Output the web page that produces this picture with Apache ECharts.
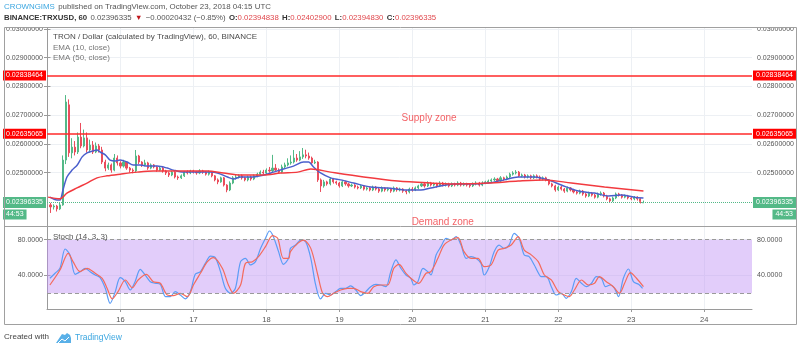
<!DOCTYPE html>
<html>
<head>
<meta charset="utf-8">
<script src="https://cdn.jsdelivr.net/npm/echarts@6/dist/echarts.min.js"></script>
<style>
  html, body { margin: 0; padding: 0; background: #fff; }
  #chart { width: 800px; height: 349px; }
</style>
</head>
<body>
<div id="chart"></div>
<script>
// TRX/USD hourly bars (Binance), x = hours since Oct 15 2018 00:00 UTC
const FIRST_HOUR = 1;

// [open, close, low, high]
const candles = [
  [0.02388,0.02381,0.02360,0.02395],[0.02381,0.02384,0.02372,0.02390],[0.02384,0.02374,0.02365,0.02388],[0.02374,0.02388,0.02370,0.02395],
  [0.02388,0.02544,0.02385,0.02560],[0.02544,0.02746,0.02530,0.02770],[0.02736,0.02569,0.02555,0.02755],[0.02569,0.02589,0.02550,0.02620],
  [0.02589,0.02572,0.02560,0.02610],[0.02572,0.02624,0.02565,0.02640],[0.02624,0.02593,0.02585,0.02673],[0.02593,0.02621,0.02588,0.02650],
  [0.02621,0.02579,0.02570,0.02640],[0.02579,0.02596,0.02570,0.02615],[0.02596,0.02572,0.02565,0.02610],[0.02572,0.02593,0.02568,0.02605],
  [0.02593,0.02579,0.02570,0.02600],[0.02579,0.02537,0.02530,0.02590],[0.02537,0.02516,0.02505,0.02545],[0.02516,0.02527,0.02510,0.02535],
  [0.02527,0.02509,0.02500,0.02532],[0.02509,0.02551,0.02505,0.02565],[0.02551,0.02534,0.02525,0.02560],[0.02534,0.02523,0.02515,0.02540],
  [0.02523,0.02537,0.02518,0.02545],[0.02537,0.02516,0.02510,0.02540],[0.02516,0.02509,0.02500,0.02520],[0.02509,0.02506,0.02498,0.02515],
  [0.02506,0.02558,0.02500,0.02579],[0.02558,0.02537,0.02530,0.02562],[0.02537,0.02527,0.02520,0.02540],[0.02527,0.02534,0.02522,0.02545],
  [0.02534,0.02516,0.02510,0.02538],[0.02516,0.02527,0.02512,0.02532],[0.02527,0.02520,0.02515,0.02530],[0.02520,0.02509,0.02503,0.02524],
  [0.02509,0.02516,0.02505,0.02520],[0.02516,0.02506,0.02500,0.02520],[0.02506,0.02499,0.02492,0.02510],[0.02499,0.02492,0.02485,0.02503],
  [0.02492,0.02502,0.02488,0.02506],[0.02502,0.02485,0.02480,0.02505],[0.02485,0.02482,0.02475,0.02490],[0.02482,0.02489,0.02478,0.02494],
  [0.02489,0.02502,0.02485,0.02506],[0.02502,0.02499,0.02494,0.02508],[0.02499,0.02506,0.02495,0.02510],[0.02506,0.02502,0.02497,0.02510],
  [0.02502,0.02499,0.02493,0.02506],[0.02499,0.02506,0.02495,0.02512],[0.02506,0.02502,0.02496,0.02510],[0.02502,0.02495,0.02490,0.02506],
  [0.02495,0.02502,0.02490,0.02508],[0.02502,0.02489,0.02484,0.02505],[0.02489,0.02475,0.02470,0.02492],[0.02475,0.02468,0.02460,0.02480],
  [0.02468,0.02482,0.02465,0.02486],[0.02482,0.02457,0.02452,0.02485],[0.02457,0.02440,0.02432,0.02460],[0.02440,0.02464,0.02436,0.02470],
  [0.02464,0.02482,0.02460,0.02488],[0.02482,0.02485,0.02476,0.02492],[0.02485,0.02489,0.02480,0.02495],[0.02489,0.02482,0.02476,0.02494],
  [0.02482,0.02475,0.02470,0.02486],[0.02475,0.02485,0.02470,0.02490],[0.02485,0.02478,0.02472,0.02490],[0.02478,0.02489,0.02474,0.02494],
  [0.02489,0.02495,0.02484,0.02500],[0.02495,0.02502,0.02490,0.02508],[0.02502,0.02499,0.02494,0.02510],[0.02499,0.02509,0.02495,0.02515],
  [0.02509,0.02506,0.02500,0.02520],[0.02506,0.02516,0.02502,0.02562],[0.02516,0.02509,0.02504,0.02530],[0.02509,0.02502,0.02498,0.02515],
  [0.02502,0.02520,0.02498,0.02528],[0.02520,0.02527,0.02515,0.02535],[0.02527,0.02534,0.02522,0.02550],[0.02534,0.02537,0.02528,0.02560],
  [0.02537,0.02551,0.02532,0.02579],[0.02551,0.02544,0.02538,0.02565],[0.02544,0.02555,0.02540,0.02575],[0.02555,0.02562,0.02548,0.02586],
  [0.02562,0.02558,0.02550,0.02580],[0.02558,0.02551,0.02545,0.02570],[0.02551,0.02534,0.02528,0.02556],[0.02534,0.02537,0.02530,0.02545],
  [0.02537,0.02475,0.02468,0.02540],[0.02475,0.02454,0.02433,0.02480],[0.02454,0.02468,0.02448,0.02475],[0.02468,0.02461,0.02455,0.02472],
  [0.02461,0.02478,0.02456,0.02484],[0.02478,0.02468,0.02462,0.02482],[0.02468,0.02464,0.02458,0.02472],[0.02464,0.02454,0.02448,0.02468],
  [0.02454,0.02468,0.02450,0.02473],[0.02468,0.02461,0.02455,0.02472],[0.02461,0.02454,0.02448,0.02465],[0.02454,0.02457,0.02450,0.02462],
  [0.02457,0.02450,0.02445,0.02460],[0.02450,0.02447,0.02442,0.02455],[0.02447,0.02454,0.02443,0.02458],[0.02454,0.02443,0.02438,0.02457],
  [0.02443,0.02447,0.02438,0.02452],[0.02447,0.02440,0.02435,0.02450],[0.02440,0.02450,0.02436,0.02455],[0.02450,0.02443,0.02438,0.02454],
  [0.02443,0.02436,0.02430,0.02447],[0.02436,0.02447,0.02432,0.02452],[0.02447,0.02440,0.02434,0.02450],[0.02440,0.02443,0.02435,0.02448],
  [0.02443,0.02436,0.02430,0.02447],[0.02436,0.02447,0.02432,0.02452],[0.02447,0.02440,0.02434,0.02450],[0.02440,0.02443,0.02435,0.02448],
  [0.02443,0.02436,0.02430,0.02446],[0.02436,0.02433,0.02425,0.02440],[0.02433,0.02443,0.02428,0.02448],[0.02443,0.02440,0.02434,0.02450],
  [0.02440,0.02447,0.02436,0.02452],[0.02447,0.02454,0.02442,0.02458],[0.02454,0.02461,0.02450,0.02466],[0.02461,0.02454,0.02448,0.02465],
  [0.02454,0.02464,0.02450,0.02470],[0.02464,0.02457,0.02452,0.02468],[0.02457,0.02461,0.02452,0.02466],[0.02461,0.02454,0.02448,0.02465],
  [0.02454,0.02464,0.02450,0.02470],[0.02464,0.02457,0.02452,0.02468],[0.02457,0.02461,0.02452,0.02466],[0.02461,0.02454,0.02449,0.02465],
  [0.02454,0.02461,0.02450,0.02466],[0.02461,0.02457,0.02452,0.02465],[0.02457,0.02464,0.02453,0.02470],[0.02464,0.02457,0.02452,0.02468],
  [0.02457,0.02461,0.02453,0.02466],[0.02461,0.02457,0.02452,0.02465],[0.02457,0.02454,0.02448,0.02462],[0.02454,0.02461,0.02450,0.02466],
  [0.02461,0.02464,0.02456,0.02470],[0.02464,0.02457,0.02452,0.02468],[0.02457,0.02464,0.02453,0.02470],[0.02464,0.02468,0.02460,0.02472],
  [0.02468,0.02471,0.02463,0.02476],[0.02471,0.02475,0.02466,0.02480],[0.02475,0.02478,0.02470,0.02484],[0.02478,0.02471,0.02466,0.02482],
  [0.02471,0.02482,0.02468,0.02488],[0.02482,0.02478,0.02472,0.02486],[0.02478,0.02485,0.02474,0.02490],[0.02485,0.02495,0.02480,0.02500],
  [0.02495,0.02499,0.02490,0.02505],[0.02499,0.02502,0.02494,0.02509],[0.02502,0.02489,0.02485,0.02506],[0.02489,0.02492,0.02484,0.02497],
  [0.02492,0.02485,0.02480,0.02496],[0.02485,0.02489,0.02480,0.02494],[0.02489,0.02482,0.02477,0.02493],[0.02482,0.02489,0.02478,0.02494],
  [0.02489,0.02485,0.02480,0.02494],[0.02485,0.02478,0.02473,0.02490],[0.02478,0.02482,0.02473,0.02487],[0.02482,0.02475,0.02470,0.02486],
  [0.02475,0.02461,0.02456,0.02478],[0.02461,0.02454,0.02449,0.02465],[0.02454,0.02440,0.02434,0.02458],[0.02440,0.02450,0.02436,0.02455],
  [0.02450,0.02443,0.02438,0.02454],[0.02443,0.02436,0.02430,0.02447],[0.02436,0.02447,0.02432,0.02452],[0.02447,0.02440,0.02435,0.02450],
  [0.02440,0.02433,0.02428,0.02444],[0.02433,0.02429,0.02424,0.02438],[0.02429,0.02436,0.02425,0.02441],[0.02436,0.02426,0.02420,0.02440],
  [0.02426,0.02419,0.02413,0.02430],[0.02419,0.02429,0.02415,0.02434],[0.02429,0.02422,0.02417,0.02433],[0.02422,0.02415,0.02410,0.02426],
  [0.02415,0.02426,0.02411,0.02431],[0.02426,0.02429,0.02420,0.02435],[0.02429,0.02419,0.02414,0.02433],[0.02419,0.02409,0.02404,0.02423],
  [0.02409,0.02402,0.02396,0.02413],[0.02402,0.02412,0.02398,0.02417],[0.02412,0.02426,0.02408,0.02431],[0.02426,0.02422,0.02417,0.02430],
  [0.02422,0.02415,0.02410,0.02426],[0.02415,0.02419,0.02411,0.02424],[0.02419,0.02412,0.02407,0.02423],[0.02412,0.02409,0.02404,0.02416],
  [0.02409,0.02415,0.02404,0.02419],[0.02415,0.02409,0.02403,0.02418],[0.02409,0.02400,0.02393,0.02412],[0.02394838,0.02396335,0.02394830,0.02402900]
];

// EMA (10, close) and EMA (50, close): [hour, value]
const ema10 = [
  [0.8,0.02415],[3.1,0.02405],[4.1,0.02405],[5.1,0.02440],[6.4,0.02485],[8.1,0.02509],[9.8,0.02527],[11.4,0.02555],
  [13.0,0.02569],[14.7,0.02575],[16.3,0.02579],[17.3,0.02572],[19.0,0.02562],[20.6,0.02544],[22.3,0.02541],[23.9,0.02544],
  [26.2,0.02537],[28.2,0.02527],[30.5,0.02527],[32.8,0.02523],[36.1,0.02523],[39.4,0.02516],[41.4,0.02509],[44.7,0.02502],
  [49.3,0.02502],[53.6,0.02502],[55.9,0.02499],[59.2,0.02485],[61.2,0.02478],[63.5,0.02485],[66.8,0.02485],[71.1,0.02492],
  [74.3,0.02502],[77.6,0.02513],[80.9,0.02523],[84.2,0.02537],[85.9,0.02537],[87.5,0.02520],[89.8,0.02499],[93.1,0.02482],
  [96.4,0.02475],[100.7,0.02464],[106.3,0.02450],[111.9,0.02447],[117.2,0.02440],[122.8,0.02440],[126.1,0.02447],[133.7,0.02461],
  [139.3,0.02461],[144.9,0.02464],[150.2,0.02475],[154.8,0.02485],[160.1,0.02485],[164.7,0.02475],[169.0,0.02457],[174.6,0.02436],
  [179.9,0.02429],[184.5,0.02419],[188.8,0.02422],[193.0,0.02415],[196.0,0.02412]
];
const ema50 = [
  [0.2,0.02415],[4.1,0.02409],[6.4,0.02429],[9.7,0.02447],[13.0,0.02464],[16.3,0.02482],[19.6,0.02489],[23.9,0.02495],
  [29.5,0.02502],[34.8,0.02506],[41.4,0.02506],[47.0,0.02506],[52.6,0.02506],[57.9,0.02499],[63.5,0.02492],[71.1,0.02492],
  [76.7,0.02499],[82.3,0.02502],[86.6,0.02513],[93.1,0.02502],[104.0,0.02485],[115.2,0.02471],[126.1,0.02464],[133.7,0.02461],
  [144.9,0.02464],[154.8,0.02471],[163.4,0.02475],[172.3,0.02464],[183.2,0.02450],[196.0,0.02436]
];

// Stoch (14, 3, 3): [hour, value]
const stochK = [
  [0.8,36.8],[2.5,42.4],[4.1,48],[5.8,69.6],[7.4,62.9],[9.1,41.2],[10.7,44],[12.4,48],[14.0,44.2],[15.7,40.5],[17.3,37.5],
  [19.0,25.6],[20.6,8.8],[22.3,21.9],[23.9,37.5],[25.6,33],[27.2,23.7],[28.8,33],[30.5,46.8],[32.1,40.5],[33.8,33],[35.4,31.2],
  [37.1,30],[38.8,16.3],[40.4,16.3],[42.0,21.9],[43.7,18.1],[45.3,13.7],[47.0,21.9],[48.6,41.2],[50.3,44.2],[51.9,53.5],
  [53.6,61.7],[55.2,59.9],[56.9,44.2],[58.5,25.6],[60.2,20],[61.8,25.6],[63.5,55.4],[65.1,59.1],[66.8,51.7],[68.4,55.4],
  [70.1,70.3],[71.7,81.5],[73.0,89.7],[74.3,83.4],[76.0,66.6],[77.6,52.4],[79.3,59.1],[79.9,70.3],[81.6,74],[83.3,79.6],
  [84.9,77.8],[86.6,59.1],[88.2,29.3],[89.8,13.7],[91.5,20],[93.1,18.1],[94.8,21.9],[96.4,25.6],[98.1,25.6],[99.7,28.2],
  [101.4,23.7],[103.0,17.4],[104.7,21.9],[106.3,27.4],[108.0,30],[109.6,29.3],[111.3,27.4],[112.9,44.2],[114.6,57.3],[116.2,48],
  [117.9,40.5],[119.5,36.8],[120.5,29.3],[121.8,33],[123.5,48],[125.1,44.2],[126.1,40.5],[127.8,62.9],[129.4,72.2],[131.1,81.5],
  [132.7,79.6],[134.4,83.4],[136.0,74],[137.7,59.1],[139.3,61],[140.9,59.1],[142.6,53.5],[143.6,40.5],[145.3,49.8],[146.9,66.6],
  [148.5,74],[150.2,70.3],[151.8,74],[153.5,87.1],[155.1,81.5],[156.8,62.9],[158.4,61],[160.1,51.7],[161.1,45],[162.4,38.7],
  [164.1,38.7],[165.7,27.4],[167.3,18.1],[169.0,20],[170.6,14.4],[172.3,21.9],[173.9,36.8],[175.6,31.2],[177.2,27.4],[178.9,31.2],
  [180.5,38.7],[182.2,36.8],[183.5,27.4],[185.1,29.3],[186.5,25.6],[187.8,16.3],[189.4,36.8],[191.1,47.2],[192.7,33],[194.4,30],
  [195.7,25.6]
];
const stochD = [
  [0.8,29.3],[4.1,46],[6.8,64.7],[8.4,55.4],[10.7,44.2],[13.0,48],[15.7,42.4],[18.0,36.8],[19.6,25.6],[21.3,13.7],[23.2,21.9],
  [25.6,34.9],[27.9,26.3],[29.8,34.9],[32.5,41.2],[34.8,33],[37.1,31.2],[39.4,18.1],[41.4,17.4],[43.7,20],[46.0,16.3],[48.0,29.3],
  [50.3,42.4],[52.6,55.4],[54.6,59.9],[57.5,48],[59.5,29.3],[61.2,20],[63.5,29.3],[65.1,53.5],[67.4,55.4],[69.4,61],[71.7,72.2],
  [74.0,84.5],[75.7,81.5],[77.6,59.1],[79.3,59.1],[79.9,66.6],[82.3,75.9],[84.2,79.6],[86.6,70.3],[88.9,40.5],[90.5,20],[92.1,16.3],
  [94.1,20],[96.4,23.7],[98.7,25.6],[100.7,25.6],[103.0,21.9],[105.4,20],[107.3,27.4],[109.6,29.3],[111.9,29.3],[113.9,48],[115.6,52.4],
  [117.9,42.4],[120.2,34.9],[122.1,31.2],[124.5,42.4],[126.1,44.2],[128.4,59.1],[130.4,74],[132.7,79.6],[135.0,82.2],[137.0,66.6],
  [139.3,59.1],[141.6,59.1],[143.6,49.8],[145.9,51.7],[148.2,68.4],[150.2,70.3],[152.5,74],[154.8,83.4],[156.8,68.4],[159.1,63],
  [161.4,55.4],[163.4,40.5],[165.7,34.9],[168.0,21.9],[170.0,18.1],[171.6,16.3],[173.3,23.7],[175.6,34.9],[177.9,29.3],[179.9,31.2],
  [181.5,38.7],[183.8,33],[186.1,27.4],[188.1,20],[189.8,31.2],[191.7,43.1],[193.7,36.8],[196.0,27.4]
];

// axis ticks
const dayTicks = [24, 48, 72, 96, 120, 144, 168, 192, 216];
const priceTicks = [0.025, 0.026, 0.027, 0.028, 0.029, 0.030];
const stochTicks = [40, 80];
const stochBand = [20, 80];

// drawn price levels
const resistanceTop = 0.02838464;
const resistanceSupply = 0.02635065;
const countdown = '44:53';

// zone captions: [hour, price, text]
const zoneNotes = [
  [125.5, 0.02690, 'Supply zone'],
  [130.0, 0.023285, 'Demand zone']
];

const UP = '#53b987', DOWN = '#eb4d5c';
const LEVEL_RED = '#ff2a2a';
const FONT = 'Liberation Sans, Arial, sans-serif';

const last = candles[candles.length - 1];
const lastClose = last[1];
const fmt8 = v => v.toFixed(8);
const candleData = candles.map((c, i) => [FIRST_HOUR + i, c[0], c[1], c[2], c[3]]);

const X_MIN = -0.16, X_MAX = 231.7;
const Y_MIN = 0.023146, Y_MAX = 0.0300678;
const S_MIN = 2.42, S_MAX = 94.2;

// one visible line with its left price tag, plus a twin carrying the right tag
function levelLines(value, color, lineType, width, boxColor, extraLine) {
  const mk = (pos, showLine) => {
    const rich = {
      e: { height: 11, lineHeight: 12 },
      g: { backgroundColor: boxColor, color: '#fff', fontSize: 7, fontFamily: FONT, height: 11, lineHeight: 12, padding: [0, 3, 0, 3] },
      t: { backgroundColor: boxColor, color: '#fff', fontSize: 7, fontFamily: FONT, height: 10, lineHeight: 12, padding: [0, 3, 0, 3], align: pos === 'end' ? 'right' : 'left' }
    };
    const label = extraLine
      ? { show: true, position: pos, distance: 1, formatter: '{e|}\n{g|' + fmt8(value) + '}\n{t|' + extraLine + '}', rich: rich }
      : { show: true, position: pos, distance: 1, formatter: fmt8(value), backgroundColor: boxColor, color: '#fff', fontSize: 7, fontFamily: FONT, padding: [2, 3, 1, 3] };
    return {
      yAxis: value,
      lineStyle: { color: showLine ? color : 'rgba(0,0,0,0)', type: lineType, width: width },
      label: label
    };
  };
  return [mk('start', true), mk('end', false)];
}

const chart = echarts.init(document.getElementById('chart'), null, { renderer: 'canvas' });

const axisGray = '#9a9a9a';
const gridLine = { show: true, lineStyle: { color: '#edf0f4', width: 1 } };

const option = {
  animation: false,
  backgroundColor: '#fff',
  grid: [
    { left: 47, top: 27, width: 705, height: 199 },
    { left: 47, top: 227, width: 705, height: 82 }
  ],
  xAxis: [
    {
      gridIndex: 0, type: 'value', min: X_MIN, max: X_MAX,
      axisLine: { show: false }, axisTick: { show: false, customValues: dayTicks },
      axisLabel: { show: false, customValues: dayTicks },
      splitLine: gridLine
    },
    {
      gridIndex: 1, type: 'value', min: X_MIN, max: X_MAX,
      axisLine: { show: true, lineStyle: { color: axisGray } },
      axisTick: { show: true, length: 3, customValues: dayTicks, lineStyle: { color: axisGray } },
      axisLabel: {
        customValues: dayTicks, color: '#555', fontSize: 7.5, fontFamily: FONT, margin: 7,
        formatter: v => String(15 + Math.round(v / 24))
      },
      splitLine: gridLine
    }
  ],
  yAxis: [
    {
      gridIndex: 0, type: 'value', position: 'right', min: Y_MIN, max: Y_MAX,
      axisLine: { show: true, lineStyle: { color: axisGray } },
      axisTick: { show: true, length: 3, customValues: priceTicks, lineStyle: { color: axisGray } },
      axisLabel: { customValues: priceTicks, formatter: fmt8, color: '#555', fontSize: 7, fontFamily: FONT, margin: 5 },
      splitLine: gridLine
    },
    {
      gridIndex: 0, type: 'value', position: 'left', min: Y_MIN, max: Y_MAX,
      axisLine: { show: true, lineStyle: { color: axisGray } },
      axisTick: { show: true, length: 3, customValues: priceTicks, lineStyle: { color: axisGray } },
      axisLabel: { customValues: priceTicks, formatter: fmt8, color: '#555', fontSize: 7, fontFamily: FONT, margin: 4 },
      splitLine: { show: false }
    },
    {
      gridIndex: 1, type: 'value', position: 'right', min: S_MIN, max: S_MAX,
      axisLine: { show: true, lineStyle: { color: axisGray } },
      axisTick: { show: true, length: 3, customValues: stochTicks, lineStyle: { color: axisGray } },
      axisLabel: { customValues: stochTicks, formatter: v => v.toFixed(4), color: '#555', fontSize: 7, fontFamily: FONT, margin: 5 },
      splitLine: gridLine
    },
    {
      gridIndex: 1, type: 'value', position: 'left', min: S_MIN, max: S_MAX,
      axisLine: { show: true, lineStyle: { color: axisGray } },
      axisTick: { show: true, length: 3, customValues: stochTicks, lineStyle: { color: axisGray } },
      axisLabel: { customValues: stochTicks, formatter: v => v.toFixed(4), color: '#555', fontSize: 7, fontFamily: FONT, margin: 4 },
      splitLine: { show: false }
    }
  ],
  series: [
    {
      type: 'candlestick', name: 'TRXUSD', xAxisIndex: 0, yAxisIndex: 0,
      data: candleData, encode: { x: 0, y: [1, 2, 3, 4] },
      barWidth: 1.6,
      itemStyle: { color: UP, color0: DOWN, borderColor: UP, borderColor0: DOWN, borderWidth: 1 },
      z: 3
    },
    {
      type: 'line', name: 'EMA (10, close)', xAxisIndex: 0, yAxisIndex: 0,
      data: ema10, showSymbol: false, smooth: 0.3,
      lineStyle: { color: '#4a5fcc', width: 1.5 }, z: 4,
      markLine: {
        silent: true, symbol: ['none', 'none'], animation: false, precision: 8,
        data: [].concat(
          levelLines(resistanceTop, LEVEL_RED, 'solid', 1.5, '#ff0000'),
          levelLines(resistanceSupply, LEVEL_RED, 'solid', 1.5, '#ff0000'),
          levelLines(lastClose, UP, 'dotted', 1, UP, countdown)
        )
      }
    },
    {
      type: 'line', name: 'EMA (50, close)', xAxisIndex: 0, yAxisIndex: 0,
      data: ema50, showSymbol: false, smooth: 0.3,
      lineStyle: { color: '#f23a3f', width: 1.5 }, z: 4
    },
    {
      type: 'scatter', xAxisIndex: 0, yAxisIndex: 0,
      data: zoneNotes.map(n => ({ value: [n[0], n[1]], name: n[2] })),
      symbolSize: 0, silent: true,
      label: { show: true, position: 'inside', formatter: '{b}', color: '#f0393f', fontSize: 10, fontFamily: FONT },
      z: 5
    },
    {
      type: 'line', name: '%K', xAxisIndex: 1, yAxisIndex: 2,
      data: stochK, showSymbol: false, smooth: 0.3,
      lineStyle: { color: '#5b9cf6', width: 1.2 },
      markArea: {
        silent: true,
        itemStyle: { color: 'rgba(190, 145, 245, 0.45)' },
        data: [[{ yAxis: stochBand[0] }, { yAxis: stochBand[1] }]]
      },
      markLine: {
        silent: true, symbol: ['none', 'none'], label: { show: false },
        lineStyle: { color: '#9a9a9a', type: [4, 3], width: 1 },
        data: [{ yAxis: stochBand[0] }, { yAxis: stochBand[1] }]
      },
      z: 4
    },
    {
      type: 'line', name: '%D', xAxisIndex: 1, yAxisIndex: 2,
      data: stochD, showSymbol: false, smooth: 0.3,
      lineStyle: { color: '#f46a5c', width: 1.2 }, z: 4
    }
  ],
  graphic: [
    // frame and pane separator
    { type: 'rect', shape: { x: 4.5, y: 27.5, width: 792, height: 297 }, style: { fill: null, stroke: '#a0a0a0', lineWidth: 1 }, silent: true, z: 10 },
    { type: 'line', shape: { x1: 4, y1: 226.5, x2: 797, y2: 226.5 }, style: { stroke: '#a0a0a0', lineWidth: 1 }, silent: true, z: 10 },
    { type: 'rect', shape: { x: 0, y: 18, width: 800, height: 9 }, style: { fill: '#fff' }, silent: true, z: 9 },
    {
      type: 'text', x: 4, y: 1, silent: true, z: 11,
      style: {
        text: '{a|CROWNGIMS} {b|published on TradingView.com, October 23, 2018 04:15 UTC}',
        rich: {
          a: { fill: '#3ba6e0', fontSize: 7.9, fontFamily: FONT },
          b: { fill: '#555', fontSize: 7.9, fontFamily: FONT }
        }
      }
    },
    {
      type: 'text', x: 4, y: 12, silent: true, z: 11,
      style: {
        text: '{k|BINANCE:TRXUSD, 60} {v|' + fmt8(lastClose) + '} {r|▼} {v|−0.00020432 (−0.85%)} {k|O:}{p|' + fmt8(last[0]) +
              '} {k|H:}{p|' + fmt8(last[3]) + '} {k|L:}{p|' + fmt8(last[2]) + '} {k|C:}{p|' + fmt8(last[1]) + '}',
        rich: {
          k: { fill: '#333', fontSize: 7.8, fontWeight: 'bold', fontFamily: FONT },
          v: { fill: '#555', fontSize: 7.8, fontFamily: FONT },
          r: { fill: '#c0161c', fontSize: 7.5, fontFamily: FONT },
          p: { fill: '#e0474c', fontSize: 7.8, fontFamily: FONT }
        }
      }
    },
    { type: 'text', x: 53, y: 33, silent: true, z: 11,
      style: { text: 'TRON / Dollar (calculated by TradingView), 60, BINANCE', fill: '#4a4a4a', fontSize: 8, fontFamily: FONT } },
    { type: 'text', x: 53, y: 44, silent: true, z: 11,
      style: { text: 'EMA (10, close)', fill: '#777', fontSize: 8, fontFamily: FONT } },
    { type: 'text', x: 53, y: 54, silent: true, z: 11,
      style: { text: 'EMA (50, close)', fill: '#777', fontSize: 8, fontFamily: FONT } },
    { type: 'text', x: 53, y: 233, silent: true, z: 11,
      style: { text: 'Stoch (14, 3, 3)', fill: '#555', fontSize: 8, fontFamily: FONT } },
    { type: 'text', x: 4, y: 333, silent: true, z: 11,
      style: { text: 'Created with', fill: '#444', fontSize: 8, fontFamily: FONT } },
    {
      type: 'polygon', silent: true, z: 11,
      shape: { points: [[56, 343], [60, 337], [62, 334], [65, 335], [67, 333], [70, 335], [71, 338], [71, 343]] },
      style: { fill: '#59b0e8' }
    },
    {
      type: 'polyline', silent: true, z: 12,
      shape: { points: [[58, 343], [62, 339], [65, 341], [69, 337]] },
      style: { stroke: '#fff', lineWidth: 1, fill: null }
    },
    { type: 'text', x: 75, y: 333, silent: true, z: 11,
      style: { text: 'TradingView', fill: '#3ba6e0', fontSize: 8.5, fontFamily: FONT } }
  ]
};

chart.setOption(option);
</script>
</body>
</html>
